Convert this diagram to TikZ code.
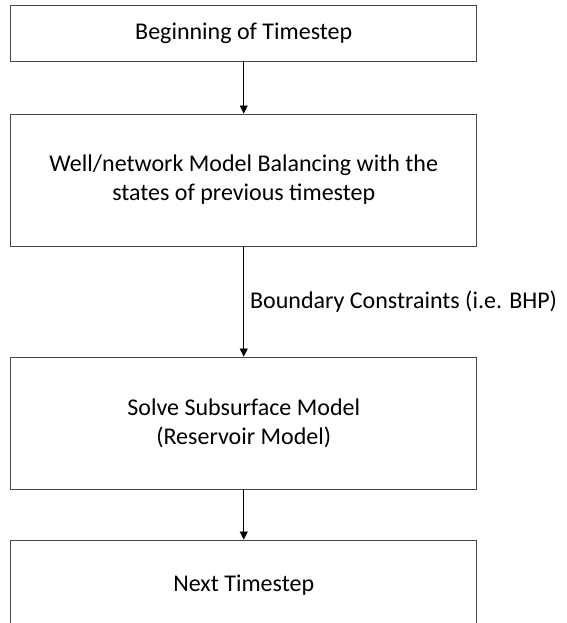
\documentclass[tikz,border=0pt]{standalone}
\usepackage{fontspec}
\setmainfont{Carlito}
\usetikzlibrary{arrows.meta}
\begin{document}
\begin{tikzpicture}[x=1pt,y=-1pt,
  stepbox/.style={draw=black!72,line width=0.9pt,minimum width=466pt,
    inner sep=0pt,align=center,font=\fontsize{24}{29}\selectfont},
  flow/.style={-{Triangle[width=8pt,length=8pt]},line width=0.8pt,black}]
  \useasboundingbox (0,0) rectangle (566,623);
  \node[stepbox,minimum height=56pt] (begin) at (243.75,33) {Beginning of Timestep};
  \node[stepbox,minimum height=132pt] (well) at (243.75,180)
    {Well/network Model Balancing with the\\states of previous timestep};
  \node[stepbox,minimum height=132pt] (solve) at (243.75,423)
    {Solve Subsurface Model\\(Reservoir Model)};
  \node[stepbox,minimum height=90pt] (next) at (243.75,585) {Next Timestep};
  \draw[flow] (begin) -- (well);
  \draw[flow] (well) -- node[right,inner sep=6pt,font=\fontsize{24}{29}\selectfont]
    {Boundary Constraints (i.e. BHP)} (solve);
  \draw[flow] (solve) -- (next);
\end{tikzpicture}
\end{document}
